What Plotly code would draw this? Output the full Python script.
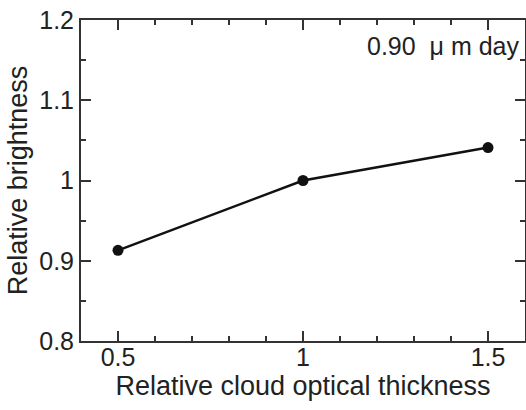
import plotly.graph_objects as go

thickness = [0.5, 1.0, 1.5]
brightness = [0.913, 1.0, 1.041]
x_ticks = [0.5, 1.0, 1.5]
x_ticklabels = ["0.5", "1", "1.5"]
y_ticks = [0.8, 0.9, 1.0, 1.1, 1.2]
y_ticklabels = ["0.8", "0.9", "1", "1.1", "1.2"]
label_text = "0.90  \u03bc m day"

ink = "#222222"
axis_col = "#333333"
font = "Liberation Sans, Arial, sans-serif"

fig = go.Figure()
fig.add_trace(go.Scatter(
    x=thickness, y=brightness, mode="lines+markers",
    line=dict(color="#111111", width=2.5),
    marker=dict(color="#111111", size=11),
    showlegend=False,
))

fig.update_xaxes(
    range=[0.4, 1.6], tickvals=x_ticks, ticktext=x_ticklabels,
    showline=True, linecolor=axis_col, linewidth=2, mirror="ticks",
    ticks="inside", ticklen=10, tickwidth=2, tickcolor=axis_col,
    minor=dict(ticks="inside", ticklen=5, tickwidth=1.5, dtick=0.1, tickcolor=axis_col),
    showgrid=False, zeroline=False,
    tickfont=dict(family=font, size=25, color=ink),
    ticklabelstandoff=-7,
    title=dict(text="Relative cloud optical thickness", font=dict(family=font, size=27, color=ink), standoff=0),
)
fig.update_yaxes(
    range=[0.8, 1.2], tickvals=y_ticks, ticktext=y_ticklabels,
    showline=True, linecolor=axis_col, linewidth=2, mirror="ticks",
    ticks="inside", ticklen=10, tickwidth=2, tickcolor=axis_col,
    minor=dict(ticks="inside", ticklen=5, tickwidth=1.5, dtick=0.05, tickcolor=axis_col),
    showgrid=False, zeroline=False,
    tickfont=dict(family=font, size=25, color=ink),
    title=dict(text="Relative brightness", font=dict(family=font, size=27, color=ink), standoff=4),
)

fig.add_annotation(
    x=1.0, y=1.0, xref="paper", yref="paper", xanchor="right", yanchor="top",
    xshift=-4, yshift=-10, text=label_text, showarrow=False,
    font=dict(family=font, size=25, color=ink),
)

fig.update_layout(
    width=526, height=410,
    margin=dict(l=81, r=1, t=20, b=69, autoexpand=False),
    paper_bgcolor="white", plot_bgcolor="white",
)

fig.write_html("out.html")
